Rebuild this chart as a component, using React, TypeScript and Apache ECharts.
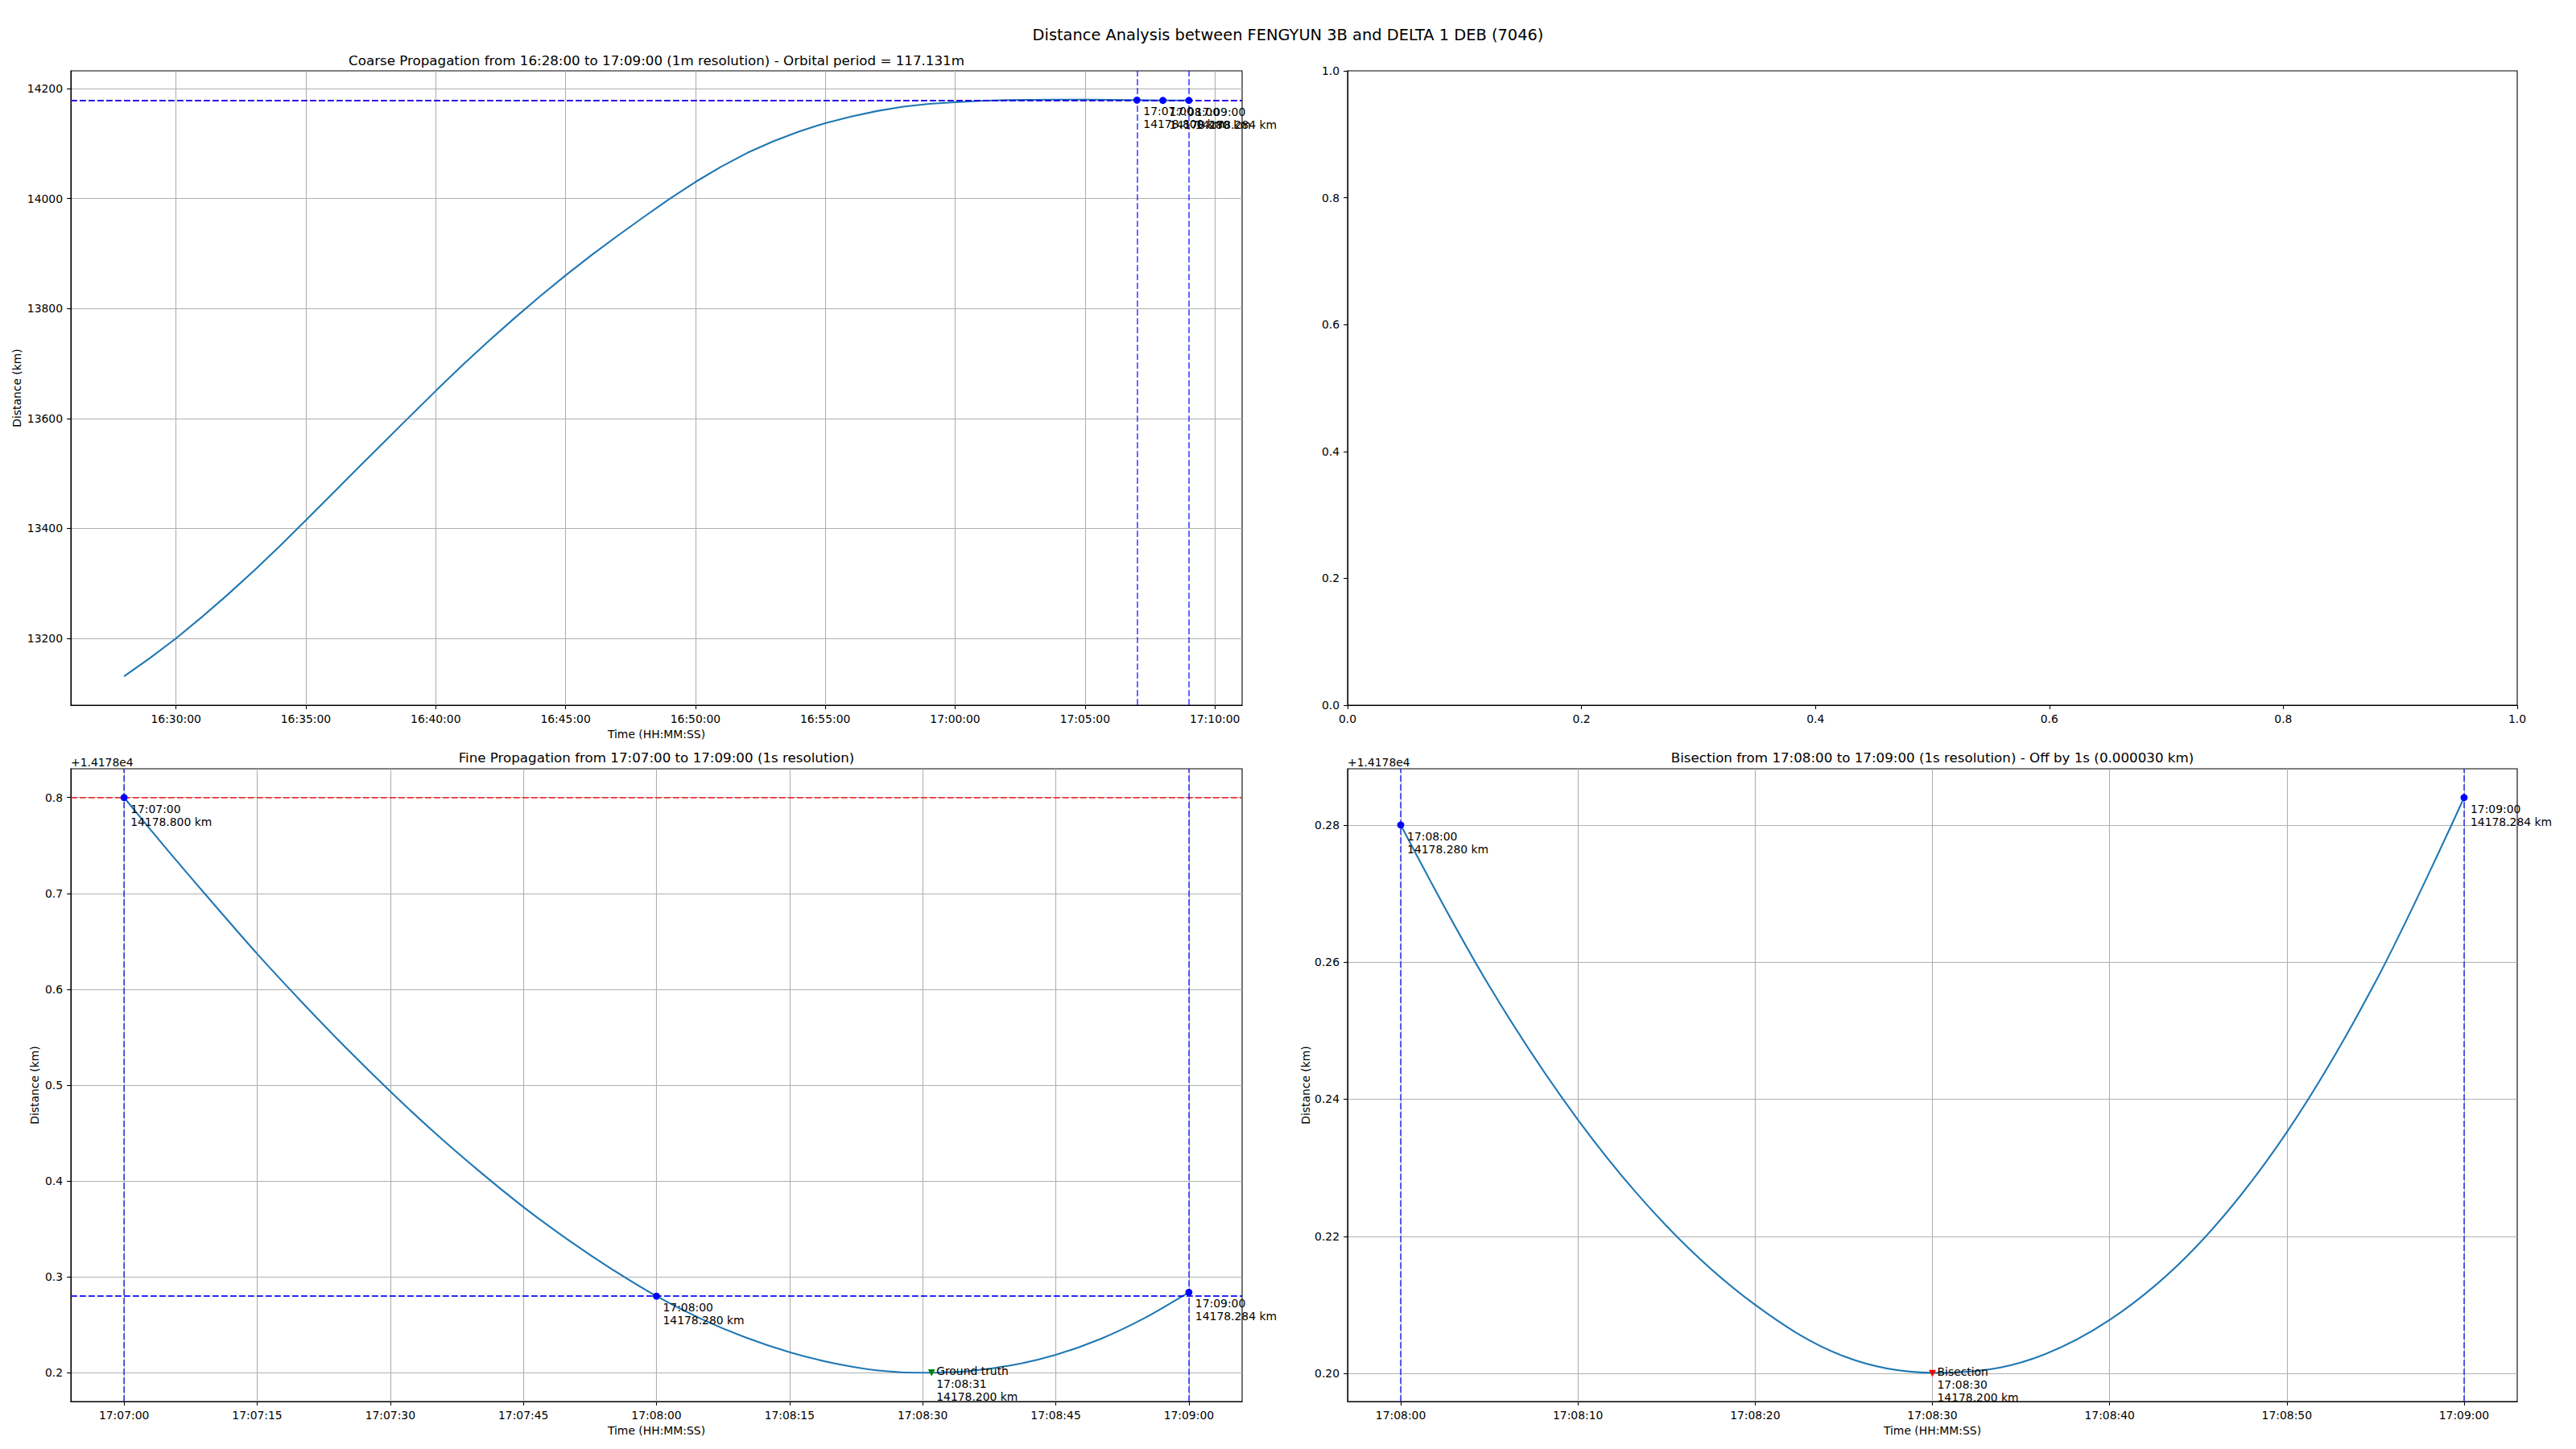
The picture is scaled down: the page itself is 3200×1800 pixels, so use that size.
import React, { useEffect, useRef } from "react";
import * as echarts from "echarts";

// ---------- texts ----------
const SUPTITLE = "Distance Analysis between FENGYUN 3B and DELTA 1 DEB (7046)";
const COARSE_TITLE =
  "Coarse Propagation from 16:28:00 to 17:09:00 (1m resolution) - Orbital period = 117.131m";
const FINE_TITLE = "Fine Propagation from 17:07:00 to 17:09:00 (1s resolution)";
const BISECT_TITLE =
  "Bisection from 17:08:00 to 17:09:00 (1s resolution) - Off by 1s (0.000030 km)";
const X_NAME = "Time (HH:MM:SS)";
const Y_NAME = "Distance (km)";
const OFFSET_TEXT = "+1.4178e4";
const OFFSET_VALUE = 14178;

// ---------- coarse propagation (1 min) ----------
const coarseTimes = [
  "16:28:00", "16:29:00", "16:30:00", "16:31:00", "16:32:00", "16:33:00", "16:34:00",
  "16:35:00", "16:36:00", "16:37:00", "16:38:00", "16:39:00", "16:40:00", "16:41:00",
  "16:42:00", "16:43:00", "16:44:00", "16:45:00", "16:46:00", "16:47:00", "16:48:00",
  "16:49:00", "16:50:00", "16:51:00", "16:52:00", "16:53:00", "16:54:00", "16:55:00",
  "16:56:00", "16:57:00", "16:58:00", "16:59:00", "17:00:00", "17:01:00", "17:02:00",
  "17:03:00", "17:04:00", "17:05:00", "17:06:00", "17:07:00", "17:08:00", "17:09:00",
];
const coarseDistances = [
  13131, 13164.5, 13200, 13239, 13280, 13323, 13368,
  13415, 13462, 13509.5, 13556.5, 13603.5, 13650, 13695.5,
  13739, 13781, 13821.5, 13860, 13897, 13932, 13966,
  13999, 14030, 14058, 14083, 14104, 14122, 14137,
  14149, 14159, 14167, 14172, 14175, 14177.5, 14178.8,
  14179.4, 14179.6, 14179.6, 14179.3, 14178.8, 14178.28, 14178.284,
];
const coarseXTicks = [
  "16:30:00", "16:35:00", "16:40:00", "16:45:00", "16:50:00",
  "16:55:00", "17:00:00", "17:05:00", "17:10:00",
];
const coarseYTicks = [13200, 13400, 13600, 13800, 14000, 14200];
const coarsePointTimes = ["17:07:00", "17:08:00", "17:09:00"];
const coarsePointValues = [14178.8, 14178.28, 14178.284];
const coarseVLines = ["17:07:00", "17:09:00"];
const coarseRedHLines = [14178.8];
const coarseBlueHLines = [14178.28, 14178.284];

// ---------- fine propagation ----------
const fineTimes = [
  "17:07:00", "17:07:05", "17:07:10", "17:07:15", "17:07:20", "17:07:25", "17:07:30",
  "17:07:35", "17:07:40", "17:07:45", "17:07:50", "17:07:55", "17:08:00", "17:08:05",
  "17:08:10", "17:08:15", "17:08:20", "17:08:25", "17:08:30", "17:08:35", "17:08:40",
  "17:08:45", "17:08:50", "17:08:55", "17:09:00",
];
const fineDistances = [
  14178.8, 14178.744, 14178.69, 14178.637, 14178.587, 14178.539, 14178.4935,
  14178.4505, 14178.4105, 14178.373, 14178.339, 14178.308, 14178.28, 14178.2565,
  14178.237, 14178.2215, 14178.21, 14178.2025, 14178.2001, 14178.2016, 14178.2078,
  14178.2188, 14178.2352, 14178.2571, 14178.284,
];
const fineXTicks = [
  "17:07:00", "17:07:15", "17:07:30", "17:07:45", "17:08:00",
  "17:08:15", "17:08:30", "17:08:45", "17:09:00",
];
const fineYTicks = [14178.2, 14178.3, 14178.4, 14178.5, 14178.6, 14178.7, 14178.8];
const finePointTimes = ["17:07:00", "17:08:00", "17:09:00"];
const finePointValues = [14178.8, 14178.28, 14178.284];
const fineVLines = ["17:07:00", "17:09:00"];
const fineRedHLines = [14178.8];
const fineBlueHLines = [14178.28, 14178.284];
const groundTruthTime = "17:08:31";
const groundTruthValue = 14178.2;

// ---------- bisection ----------
const bisectTimes = [
  "17:08:00", "17:08:05", "17:08:10", "17:08:15", "17:08:20", "17:08:25", "17:08:30",
  "17:08:35", "17:08:40", "17:08:45", "17:08:50", "17:08:55", "17:09:00",
];
const bisectDistances = [
  14178.28, 14178.2565, 14178.237, 14178.2215, 14178.21, 14178.2025, 14178.2001,
  14178.2016, 14178.2078, 14178.2188, 14178.2352, 14178.2571, 14178.284,
];
const bisectXTicks = [
  "17:08:00", "17:08:10", "17:08:20", "17:08:30", "17:08:40", "17:08:50", "17:09:00",
];
const bisectYTicks = [14178.2, 14178.22, 14178.24, 14178.26, 14178.28];
const bisectPointTimes = ["17:08:00", "17:09:00"];
const bisectPointValues = [14178.28, 14178.284];
const bisectVLines = ["17:08:00", "17:09:00"];
const bisectionTime = "17:08:30";
const bisectionValue = 14178.2;

// ---------- helpers ----------
const FONT = "DejaVu Sans";
const toSec = (s: string) => {
  const [h, m, x] = s.split(":").map(Number);
  return h * 3600 + m * 60 + x;
};
const pad = (n: number) => String(n).padStart(2, "0");
const fmtTime = (v: number) => {
  const r = Math.round(v);
  return `${pad(Math.floor(r / 3600))}:${pad(Math.floor((r % 3600) / 60))}:${pad(r % 60)}`;
};
const padRange = (vals: number[]) => {
  const lo = Math.min(...vals);
  const hi = Math.max(...vals);
  const m = (hi - lo) * 0.05;
  return [lo - m, hi + m];
};

const BLUE_A = "rgba(0,0,255,0.6)";
const RED_A = "rgba(255,0,0,0.65)";
const DASH = [7.7, 3.3];
const DLW = 2.0;

function xAxis(gi: number, ticks: string[], times: string[], gap: number) {
  const secs = ticks.map(toSec);
  const [mn, mx] = padRange(times.map(toSec));
  return {
    type: "value",
    gridIndex: gi,
    min: mn,
    max: mx,
    name: X_NAME,
    nameLocation: "middle",
    nameGap: gap,
    nameTextStyle: { fontFamily: FONT, fontSize: 13.9, color: "#000" },
    axisLine: { show: true, onZero: false, lineStyle: { color: "#000", width: 1.1 } },
    axisTick: { show: true, length: 4.9, lineStyle: { color: "#000", width: 1.1 }, customValues: secs },
    axisLabel: {
      customValues: secs,
      formatter: (v: number) => fmtTime(v),
      fontFamily: FONT,
      fontSize: 13.9,
      color: "#000",
      margin: 10,
    },
    splitLine: { show: true, lineStyle: { color: "#b0b0b0", width: 1.1 } },
  };
}

function yAxis(
  gi: number,
  ticks: number[],
  vals: number[],
  gap: number,
  fmt: (v: number) => string
) {
  const [mn, mx] = padRange(vals);
  return {
    type: "value",
    gridIndex: gi,
    min: mn,
    max: mx,
    name: Y_NAME,
    nameLocation: "middle",
    nameGap: gap,
    nameTextStyle: { fontFamily: FONT, fontSize: 13.9, color: "#000" },
    axisLine: { show: true, onZero: false, lineStyle: { color: "#000", width: 1.1 } },
    axisTick: { show: true, length: 4.9, lineStyle: { color: "#000", width: 1.1 }, customValues: ticks },
    axisLabel: {
      customValues: ticks,
      formatter: fmt,
      fontFamily: FONT,
      fontSize: 13.9,
      color: "#000",
      margin: 10,
    },
    splitLine: { show: true, lineStyle: { color: "#b0b0b0", width: 1.1 } },
  };
}

function curveSeries(
  gi: number,
  times: string[],
  vals: number[],
  smooth: number | boolean,
  vlines: string[],
  redH: number[],
  blueH: number[]
) {
  const lines: any[] = [];
  redH.forEach((v) => lines.push({ yAxis: v, lineStyle: { color: RED_A, type: DASH, width: DLW } }));
  blueH.forEach((v) => lines.push({ yAxis: v, lineStyle: { color: BLUE_A, type: DASH, width: DLW } }));
  vlines.forEach((t) =>
    lines.push({ xAxis: toSec(t), lineStyle: { color: BLUE_A, type: DASH, width: DLW } })
  );
  return {
    type: "line",
    xAxisIndex: gi,
    yAxisIndex: gi,
    data: times.map((t, i) => [toSec(t), vals[i]]),
    showSymbol: false,
    smooth,
    lineStyle: { color: "#1f77b4", width: 2.08 },
    z: 2,
    markLine: {
      silent: true,
      symbol: ["none", "none"],
      label: { show: false },
      animation: false,
      data: lines,
      z: 3,
    },
  };
}

const labelStyle = {
  show: true,
  formatter: "{b}",
  align: "left",
  verticalAlign: "top",
  fontFamily: FONT,
  fontSize: 13.9,
  lineHeight: 16,
  color: "#000",
};

const DOT = 8.8;

function pointSeries(gi: number, times: string[], vals: number[]) {
  return {
    type: "scatter",
    xAxisIndex: gi,
    yAxisIndex: gi,
    symbol: "circle",
    symbolSize: DOT,
    itemStyle: { color: "#0000ff", opacity: 1 },
    z: 4,
    label: { ...labelStyle, position: [8 + DOT / 2, 6 + DOT / 2] },
    data: times.map((t, i) => ({
      name: `${t}\n${vals[i].toFixed(3)} km`,
      value: [toSec(t), vals[i]],
    })),
  };
}

function triangleSeries(gi: number, title: string, t: string, v: number, color: string) {
  return {
    type: "scatter",
    xAxisIndex: gi,
    yAxisIndex: gi,
    symbol: "triangle",
    symbolRotate: 180,
    symbolSize: DOT,
    itemStyle: { color, opacity: 1 },
    z: 4,
    label: { ...labelStyle, position: [6 + DOT / 2, -10 + DOT / 2] },
    data: [{ name: `${title}\n${t}\n${v.toFixed(3)} km`, value: [toSec(t), v] }],
  };
}

const txt = (text: string, x: number, y: number, size: number, align = "center") => ({
  type: "text",
  x,
  y,
  style: {
    text,
    fill: "#000",
    font: `${size}px "${FONT}"`,
    fontFamily: FONT,
    fontSize: size,
    textAlign: align,
    textVerticalAlign: "middle",
    align,
    verticalAlign: "middle",
  },
});

const plainAxis = (gi: number) => ({
  type: "value",
  gridIndex: gi,
  min: 0,
  max: 1,
  interval: 0.2,
  axisLine: { show: true, onZero: false, lineStyle: { color: "#000", width: 1.1 } },
  axisTick: { show: true, length: 4.9, lineStyle: { color: "#000", width: 1.1 } },
  axisLabel: {
    formatter: (v: number) => v.toFixed(1),
    fontFamily: FONT,
    fontSize: 13.9,
    color: "#000",
    margin: 10,
  },
  splitLine: { show: false },
});

export default function App() {
  const ref = useRef<HTMLDivElement>(null);
  useEffect(() => {
    if (!ref.current) return;
    const chart = echarts.init(ref.current, undefined, { renderer: "svg" });
    const gridBase = { show: true, borderColor: "#000", borderWidth: 1.1, backgroundColor: "transparent" };
    const offFmt1 = (v: number) => (v - OFFSET_VALUE).toFixed(1);
    const offFmt2 = (v: number) => (v - OFFSET_VALUE).toFixed(2);
    const option: any = {
      animation: false,
      backgroundColor: "#fff",
      grid: [
        { ...gridBase, left: 88, top: 88, width: 1455, height: 788 },
        { ...gridBase, left: 1674, top: 88, width: 1453, height: 788 },
        { ...gridBase, left: 88, top: 955, width: 1455, height: 786 },
        { ...gridBase, left: 1674, top: 955, width: 1453, height: 786 },
      ],
      xAxis: [
        xAxis(0, coarseXTicks, coarseTimes, 29),
        plainAxis(1),
        xAxis(2, fineXTicks, fineTimes, 29),
        xAxis(3, bisectXTicks, bisectTimes, 29),
      ],
      yAxis: [
        yAxis(0, coarseYTicks, coarseDistances, 60, (v) => String(Math.round(v))),
        plainAxis(1),
        yAxis(2, fineYTicks, fineDistances, 38, offFmt1),
        yAxis(3, bisectYTicks, bisectDistances, 44, offFmt2),
      ],
      series: [
        curveSeries(0, coarseTimes, coarseDistances, false, coarseVLines, coarseRedHLines, coarseBlueHLines),
        pointSeries(0, coarsePointTimes, coarsePointValues),
        curveSeries(2, fineTimes, fineDistances, 0.25, fineVLines, fineRedHLines, fineBlueHLines),
        pointSeries(2, finePointTimes, finePointValues),
        triangleSeries(2, "Ground truth", groundTruthTime, groundTruthValue, "#008000"),
        curveSeries(3, bisectTimes, bisectDistances, 0.35, bisectVLines, [], []),
        pointSeries(3, bisectPointTimes, bisectPointValues),
        triangleSeries(3, "Bisection", bisectionTime, bisectionValue, "#ff0000"),
      ],
      graphic: [
        txt(SUPTITLE, 1600, 43, 19.4),
        txt(COARSE_TITLE, 815.5, 75, 16.7),
        txt(FINE_TITLE, 815.5, 941, 16.7),
        txt(BISECT_TITLE, 2400.5, 941, 16.7),
        txt(OFFSET_TEXT, 88, 947, 13.9, "left"),
        txt(OFFSET_TEXT, 1674, 947, 13.9, "left"),
      ],
    };
    chart.setOption(option);
    return () => chart.dispose();
  }, []);
  return (
    <div
      ref={ref}
      style={{ position: "fixed", left: 0, top: 0, width: 3200, height: 1800, background: "#fff" }}
    />
  );
}
